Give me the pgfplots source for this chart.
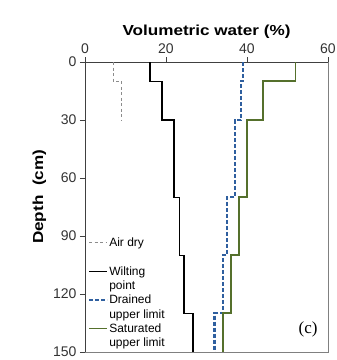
\documentclass[border=0pt]{standalone}
\usepackage{pgfplots}
\pgfplotsset{compat=1.18}
\usepackage{fontspec}
\setmainfont{Liberation Sans}
\newfontfamily\widesans{Liberation Sans}[FakeStretch=1.18]
\newfontfamily\serifc{Liberation Serif}
\definecolor{dulblue}{HTML}{2F5F9F}
\definecolor{satgreen}{HTML}{55702C}
\definecolor{airgray}{HTML}{8C8C8C}
\newcommand{\twol}[2]{\vtop{\hbox{\strut #1}\hbox{\strut #2}}}
\begin{document}
\begin{tikzpicture}
\useasboundingbox (-85pt,-8pt) rectangle (252pt,352pt);
\begin{axis}[
  scale only axis, width=243pt, height=290pt,
  at={(0pt,0pt)}, anchor=south west,
  xmin=0, xmax=60, ymin=0, ymax=150, y dir=reverse,
  axis x line*=top, axis y line*=left,
  axis line style={black!75, line width=0.9pt},
  xtick={0,20,40,60}, ytick={0,30,60,90,120,150},
  tick align=outside, major tick length=5pt,
  tick style={black!75, line width=0.8pt},
  /pgf/number format/assume math mode=true,
  ticklabel style={font=\fontsize{14}{16}\selectfont, text=black!80},
  xlabel={\textbf{Volumetric water (\%)}},
  ylabel={\textbf{Depth\ \ (cm)}},
  label style={font=\widesans\fontsize{14.5}{17}\selectfont},
  xlabel style={yshift=-2pt},
  ylabel style={at={(ticklabel cs:0.535)}, yshift=0pt},
  legend style={at={(0.012,0.405)}, anchor=north west, draw=none, fill=none,
    font=\fontsize{12}{14.3}\selectfont, row sep=0pt,
    cells={anchor=base west}, inner xsep=0pt,
    nodes={inner xsep=1pt, inner ysep=0pt, text height=10pt, text depth=18.6pt}},
  legend image code/.code={\draw[#1] (0pt,4pt) -- (18pt,4pt);},
  clip=false,
]
\addplot[airgray, line width=1.4pt, dash pattern=on 3pt off 2.5pt] coordinates {
  (7,0) (7,10) (9,10) (9,30)};
\addlegendentry{\twol{Air dry}{}}
\addplot[black, line width=1.6pt] coordinates {
  (16,0) (16,10) (19,10) (19,30) (22,30) (22,70) (23.3,70) (23.3,100)
  (24.5,100) (24.5,130) (26.6,130) (26.6,150)};
\addlegendentry{\twol{Wilting}{point}}
\addplot[dulblue, line width=2.2pt, dash pattern=on 4pt off 2pt] coordinates {
  (39,0) (39,10) (38.5,10) (38.5,30) (37,30) (37,70) (35,70) (35,100)
  (34,100) (34,130) (32,130) (32,150)};
\addlegendentry{\twol{Drained}{upper limit}}
\addplot[satgreen, line width=1.8pt] coordinates {
  (52,0) (52,10) (44,10) (44,30) (40,30) (40,70) (38,70) (38,100)
  (36,100) (36,130) (34,130) (34,150)};
\addlegendentry{\twol{Saturated}{upper limit}}
\draw[black!50, line width=0.9pt] (rel axis cs:1,1) -- (rel axis cs:1,0) -- (rel axis cs:0,0);
\node[font=\serifc\fontsize{17}{19}\selectfont] at (rel axis cs:0.918,0.078) {(c)};
\end{axis}
\end{tikzpicture}
\end{document}
